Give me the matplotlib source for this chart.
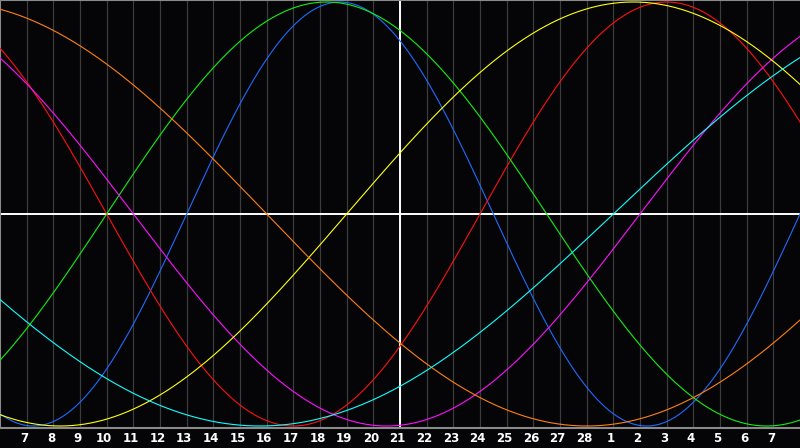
import numpy as np
import matplotlib.pyplot as plt

# biorhythm cycles (days) and their colours
cycle_names = ['physical', 'emotional', 'intellectual', 'intuitive',
               'aesthetic', 'awareness', 'spiritual']
cycle_days = [23, 28, 33, 38, 43, 48, 53]
cycle_colors = ['#1e6bff', '#ff1010', '#10f010', '#ff10ff',
                '#ffff10', '#ff8010', '#10ffff']

# age in days at the left edge of the chart, and the days shown
age_at_start = 36494
n_days = 30
day_labels = list(range(7, 29)) + list(range(1, 8))

bg = '#050508'
fig = plt.figure(figsize=(8, 4.48), dpi=100, facecolor=bg)
ax = fig.add_axes([0, 20 / 448, 1, 428 / 448])
ax.set_facecolor(bg)

u = np.linspace(0, n_days, 1600)
t = age_at_start + u

# day grid
for k in range(1, len(day_labels) + 1):
    ax.axvline(k, color='#3c3c3c', lw=0.9, zorder=1)

for P, c in zip(cycle_days, cycle_colors):
    ax.plot(u, np.sin(2 * np.pi * t / P), color=c, lw=0.8, zorder=3)

# today marker + zero line
ax.axhline(0, color='white', lw=1.4, zorder=2)
ax.axvline(n_days / 2, color='white', lw=1.4, zorder=2)

ax.set_xlim(0, n_days)
ax.set_ylim(-214 / 212, 214 / 212)
ax.set_xticks([])
ax.set_yticks([])
for side in ['top', 'left', 'bottom']:
    ax.spines[side].set_color('#8a8a8a')
    ax.spines[side].set_linewidth(1.5)
ax.spines['right'].set_visible(False)

for k, lab in enumerate(day_labels, start=1):
    fig.text((k - 0.09) / n_days, 9.5 / 448, str(lab), color='white',
             fontsize=8.5, fontweight='bold', family='DejaVu Sans',
             ha='center', va='center')

fig.savefig('out.png', dpi=100, facecolor=bg)
